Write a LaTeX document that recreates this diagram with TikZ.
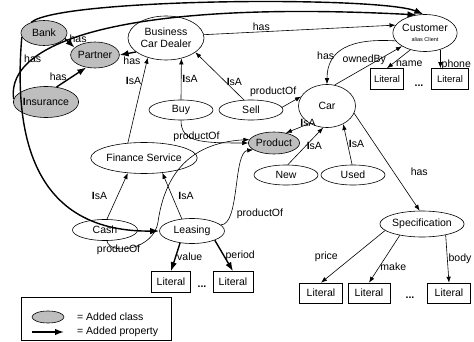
\documentclass[tikz,border=0pt]{standalone}
\usepackage{fontspec}
\setmainfont{Liberation Sans}
\usetikzlibrary{shapes.geometric,arrows.meta}
\definecolor{addgray}{RGB}{190,190,190}
\begin{document}
\begin{tikzpicture}[x=1pt,y=-1pt,
  every node/.style={font=\fontsize{10.5}{12}\selectfont},
  cls/.style={ellipse,draw,line width=0.6pt,inner sep=0pt},
  added/.style={cls,fill=addgray},
  lit/.style={rectangle,draw,line width=0.6pt,inner sep=0pt,minimum height=20pt},
  rel/.style={line width=0.6pt,-{Latex[length=6pt,width=4.5pt]}},
  addrel/.style={line width=1.4pt,-{Latex[length=9pt,width=6.5pt]}},
  lbl/.style={inner sep=1pt}]
\useasboundingbox (0,0) rectangle (474,342);

% classes
\node[added, minimum width=46pt, minimum height=25pt] (bank) at (44,33) {Bank};
\node[added, minimum width=45pt, minimum height=26pt] (partner) at (95,55) {Partner};
\node[added, minimum width=57pt, minimum height=31pt] (insurance) at (46,102) {\textbf{I}nsurance};
\node[cls, minimum width=76pt, minimum height=44pt, align=center] (bcd) at (166,38) {Business\\Car Dealer};
\node[cls, minimum width=58pt, minimum height=37pt, align=center] (customer) at (425,33) {Customer\\[-2pt]{\fontsize{5.5}{6}\selectfont alias Client}};
\node[lit, minimum width=33pt, minimum height=21pt, font=\fontsize{9.5}{11}\selectfont] (litname) at (387,79) {Literal};
\node[lit, minimum width=37pt, minimum height=21pt, font=\fontsize{9.5}{11}\selectfont] (litphone) at (450,79) {Literal};
\node (dotsa) at (419,86) {\textbf{...}};
\node[cls, minimum width=64pt, minimum height=20pt] (buy) at (181,110) {Buy};
\node[cls, minimum width=64pt, minimum height=20pt] (sell) at (251,110) {Sell};
\node[cls, minimum width=57pt, minimum height=43pt] (car) at (327,106) {Car};
\node[added, minimum width=47pt, minimum height=22pt] (product) at (274,143) {Product};
\node[cls, minimum width=97pt, minimum height=31pt] (fin) at (144,158) {Finance Service};
\node[cls, minimum width=64pt, minimum height=20pt] (new) at (286,175) {New};
\node[cls, minimum width=64pt, minimum height=20pt] (used) at (353,175) {Used};
\node[cls, minimum width=76pt, minimum height=26pt] (spec) at (422,224) {Specification};
\node[cls, minimum width=65pt, minimum height=21pt] (cash) at (105,230) {Cash};
\node[cls, minimum width=65pt, minimum height=25pt] (leasing) at (192,231) {Leasing};
\node[lit, minimum width=39pt, minimum height=21pt] (litv) at (171,282) {Literal};
\node[lit, minimum width=40pt, minimum height=21pt] (litp) at (233,282) {Literal};
\node (dotsb) at (202,287) {\textbf{...}};
\node[lit, minimum width=43pt] (lita) at (321,293) {Literal};
\node[lit, minimum width=42pt] (litb) at (369,293) {Literal};
\node[lit, minimum width=43pt] (litc) at (449,293) {Literal};
\node (dotsc) at (410,298) {\textbf{...}};
\coordinate (cashbend) at (158,222);

% added properties
\draw[addrel] (bank.-15) -- node[at start, anchor=west, xshift=3pt, lbl] {has} (partner.160);
\draw[addrel] (insurance.55) -- node[midway, left=3pt, lbl] {has} (partner.-125);
\draw[addrel] (bcd.205) -- node[midway, below=2pt, xshift=4pt, lbl] {has} (partner.0);
\draw[addrel] (bank.140) .. controls (60,-2) and (380,-4) .. (customer.95);
\draw[addrel] (insurance.175) .. controls (5,40) and (130,0) .. node[pos=0.25, lbl] {has} (customer.115);
\draw[addrel] (bank.190) .. controls (10,175) and (60,232) .. (leasing.180);
\draw[addrel] (leasing.-135) -- node[midway, right, lbl] {value} (litv.north);
\draw[addrel] (leasing.-22) -- node[midway, right, lbl] {period} (litp.north);

% properties
\draw[rel] (bcd.5) -- node[pos=0.3, above, lbl] {has} (customer.165);
\draw[rel] (buy.north) -- node[midway, right, lbl] {\textbf{I}sA} (bcd.-53);
\draw[rel] (sell.125) -- node[pos=0.38, right, lbl] {\textbf{I}sA} (bcd.-26);
\draw[rel] (fin.137) -- node[pos=0.73, left, lbl] {\textbf{I}sA} (bcd.-133);
\draw[rel] (cash.80) -- node[midway, left=9pt, lbl] {\textbf{I}sA} (fin.-137);
\draw[rel] (leasing.130) -- node[midway, right=5pt, lbl] {\textbf{I}sA} (fin.-39);
\draw[rel] (sell.5) -- node[at start, anchor=south, xshift=-9pt, yshift=9pt, lbl] {productOf} (car.160);
\draw[rel] (buy.-90) .. controls (181,142) and (200,143) .. node[pos=0.5, anchor=south, inner sep=0pt, yshift=-2pt] {productOf} (product.180);
\draw[rel] (cash.-80) .. controls (110,256) and (154,250) .. node[pos=0.3, anchor=north, inner sep=0pt, yshift=4pt] {producOf} (cashbend) .. controls (164,180) and (185,143) .. (product.172);
\draw[rel] (leasing.12) .. controls (240,225) and (233,152) .. node[pos=0.2, anchor=west, xshift=6pt, yshift=4pt, lbl] {productOf} (product.-162);
\draw[rel] (car.-135) -- node[pos=0.4, anchor=south west, inner sep=0pt] {\textbf{I}sA} (product.40);
\draw[rel] (new.80) -- node[midway, right, lbl] {\textbf{I}sA} (car.-100);
\draw[rel] (used.95) -- node[midway, right, lbl] {\textbf{I}sA} (car.-48);
\draw[rel] (car.-15) -- node[pos=0.6, right=16pt, lbl] {has} (spec.100);
\draw[rel] (customer.-165) .. controls (350,38) and (327,50) .. node[pos=0.65, left, lbl] {has} (car.90);
\draw[rel] (car.70) -- node[midway, above, xshift=-4pt, lbl] {ownedBy} (customer.-150);
\draw[rel] (customer.-131) -- node[pos=0.75, right=2pt, lbl] {name} (litname.north);
\draw[rel] (customer.-47) -- node[pos=0.8, right, lbl] {phone} (customer.-47 |- litphone.north);
\draw[rel] (spec.-170) -- node[midway, left=14pt, lbl] {price} (lita.north);
\draw[rel] (spec.-153) -- node[pos=0.67, right, lbl] {make} (litb.north);
\draw[rel] (spec.-25) -- node[midway, right, lbl] {body} (litc.north);

% legend
\node[draw, line width=0.6pt, minimum width=150pt, minimum height=43pt, inner sep=0pt] (legend) at (96,319) {};
\node[added, minimum width=32pt, minimum height=12pt] (legclass) at (48,317) {};
\node[anchor=west, inner sep=0pt] (legclasstxt) at (77,317) {= Added class};
\coordinate (lega) at (32,332);
\coordinate (legb) at (64,332);
\draw[addrel] (lega) -- (legb);
\node[anchor=west, inner sep=0pt] (legproptxt) at (77,332) {= Added property};
\end{tikzpicture}
\end{document}
